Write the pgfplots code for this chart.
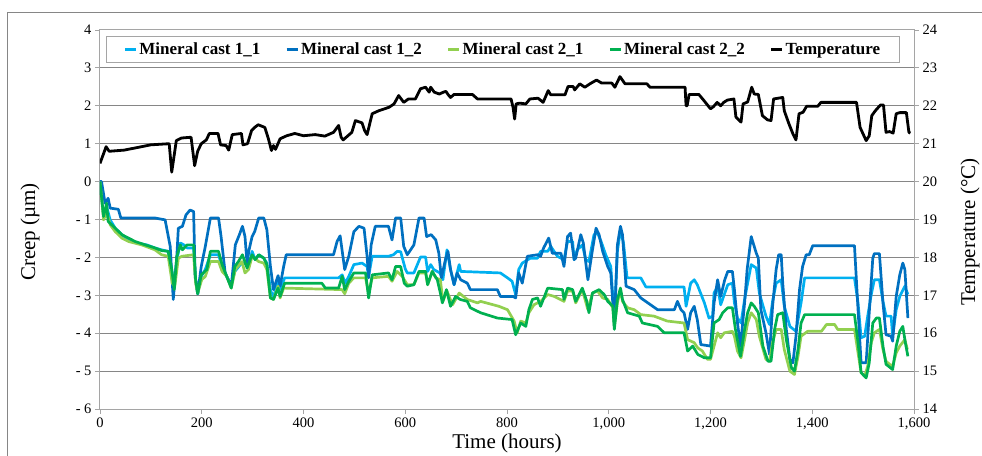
\documentclass[border=0pt]{standalone}
\usepackage{fontspec}
\setmainfont{Liberation Serif}
\usepackage{pgfplots}
\pgfplotsset{compat=1.18}

\definecolor{mcA}{RGB}{0,176,240}
\definecolor{mcB}{RGB}{0,112,192}
\definecolor{mcC}{RGB}{146,208,80}
\definecolor{mcD}{RGB}{0,176,80}
\definecolor{gridc}{RGB}{134,134,134}
\definecolor{axc}{RGB}{165,165,165}

\pgfplotsset{
  chart/.style={
    scale only axis, width=814pt, height=379pt,
    at={(0pt,0pt)}, anchor=south west,
    xmin=0, xmax=1600,
    tick label style={font=\fontsize{14.5}{16}\selectfont},
    label style={font=\fontsize{21}{24}\selectfont},
    tick align=outside, major tick length=5pt,
    every tick/.style={axc, line width=0.8pt},
    axis line style={axc, line width=1pt},
  },
  creep/.style={line width=2.7pt, line join=round},
}

\begin{document}
\begin{tikzpicture}
\useasboundingbox (-100pt,-46pt) rectangle (882pt,409pt);
\clip (-100pt,-46pt) rectangle (882pt,409pt);
% chart frame, cut off at the right and bottom like the reference
\draw[gridc, line width=1pt] (-92pt,-80pt) rectangle (920pt,396pt);

\begin{axis}[chart,
  ymin=-6, ymax=4,
  xtick={0,200,400,600,800,1000,1200,1400,1600},
  xticklabels={0,200,400,600,800,{1,000},{1,200},{1,400},{1,600}},
  ytick={-6,-5,-4,-3,-2,-1,0,1,2,3,4},
  yticklabels={- 6,- 5,- 4,- 3,- 2,- 1,0,1,2,3,4},
  xtick pos=left, ytick pos=left,
  ymajorgrids, grid style={gridc, line width=1pt},
  xlabel={Time (hours)}, ylabel={Creep (µm)},
  xlabel style={at={(axis description cs:0.5,-0.09)}, anchor=center},
  ylabel style={at={(axis description cs:-0.086,0.467)}, anchor=center},
]

% Mineral cast 1_1
\addplot[creep, mcA] coordinates {
(0,0) (7,-0.92) (13,-0.66) (20,-1.01) (30,-1.23) (43,-1.40) (56,-1.54) (69,-1.61)
(92,-1.67) (108,-1.75) (121,-1.80) (134,-1.84) (141,-2.32) (146,-2.81) (151,-2.06)
(158,-1.62) (165,-1.67) (171,-1.75) (184,-1.75) (188,-2.59) (192,-2.96) (199,-2.50)
(207,-2.32) (217,-1.93) (233,-1.93) (240,-2.24) (249,-2.50) (258,-2.72) (265,-2.37)
(276,-2.19) (285,-2.15) (292,-2.28) (299,-1.84) (305,-2.06) (312,-1.93) (322,-2.02)
(328,-2.15) (335,-2.85) (341,-3.07) (350,-2.59) (354,-2.85) (363,-2.54) (469,-2.54)
(476,-2.46) (482,-2.68) (489,-2.50) (499,-2.19) (515,-2.15) (525,-2.24) (528,-2.50)
(535,-1.97) (567,-1.97) (577,-1.93) (584,-1.84) (591,-1.85) (600,-2.30) (604,-2.41)
(617,-2.41) (630,-1.99) (640,-1.99) (644,-2.37) (650,-2.19) (656,-2.32) (668,-2.41)
(674,-2.59) (682,-1.80) (689,-2.32) (696,-2.72) (706,-2.19) (709,-2.37) (787,-2.41)
(801,-2.54) (810,-2.63) (817,-2.98) (823,-2.32) (830,-2.15) (846,-2.02) (860,-2.02)
(866,-1.84) (880,-1.84) (886,-1.71) (899,-1.97) (906,-2.02) (912,-2.06) (919,-1.58)
(929,-1.58) (932,-2.06) (938,-1.80) (948,-1.67) (955,-2.06) (961,-2.11) (971,-1.40)
(978,-1.36) (985,-1.58) (994,-1.93) (1004,-2.24) (1011,-3.64) (1017,-1.84) (1023,-1.27)
(1029,-1.62) (1036,-2.54) (1063,-2.54) (1073,-2.78) (1148,-2.78) (1152,-3.29) (1161,-2.68)
(1168,-2.59) (1174,-2.72) (1188,-3.20) (1197,-3.60) (1204,-3.55) (1207,-2.94) (1214,-2.76)
(1220,-3.25) (1227,-2.98) (1234,-2.72) (1243,-2.68) (1247,-3.20) (1253,-3.60) (1260,-3.73)
(1267,-3.11) (1273,-2.68) (1280,-2.19) (1290,-2.28) (1296,-2.94) (1309,-3.55) (1316,-3.77)
(1322,-3.16) (1329,-2.68) (1339,-2.59) (1345,-3.29) (1356,-3.82) (1368,-3.95) (1378,-3.20)
(1385,-2.54) (1483,-2.54) (1490,-3.20) (1496,-4.12) (1503,-4.08) (1509,-3.55) (1516,-2.98)
(1522,-2.59) (1532,-2.59) (1539,-3.16) (1545,-3.55) (1555,-3.55) (1558,-4.08) (1565,-3.38)
(1572,-3.03) (1582,-2.76) (1588,-2.98)
};

% Mineral cast 1_2
\addplot[creep, mcB] coordinates {
(0,0) (3,0) (10,-0.57) (16,-0.44) (20,-0.70) (36,-0.73) (41,-0.96) (108,-0.96) (128,-1.01)
(138,-1.71) (144,-3.11) (151,-1.97) (154,-1.23) (162,-1.18) (169,-0.88) (177,-0.75)
(184,-0.79) (187,-2.50) (192,-2.96) (199,-2.24) (207,-1.71) (217,-0.96) (233,-0.96)
(238,-1.45) (246,-2.41) (258,-2.76) (266,-1.67) (274,-1.40) (280,-1.18) (285,-1.45)
(289,-2.15) (293,-1.80) (299,-1.45) (304,-1.32) (312,-0.96) (322,-0.96) (328,-1.27)
(335,-2.24) (341,-2.85) (350,-2.48) (354,-2.76) (361,-2.24) (366,-1.93) (459,-1.93)
(466,-1.58) (472,-1.43) (481,-2.32) (489,-1.97) (499,-1.32) (509,-1.18) (519,-1.23)
(525,-1.97) (528,-2.54) (533,-1.67) (541,-1.18) (567,-1.18) (574,-1.54) (581,-0.96)
(591,-0.96) (597,-1.71) (604,-1.93) (617,-1.67) (627,-0.96) (637,-0.96) (642,-1.45)
(651,-1.40) (660,-1.54) (666,-1.89) (671,-2.54) (679,-2.06) (684,-1.84) (689,-2.32)
(696,-2.72) (702,-2.41) (709,-2.59) (722,-2.68) (728,-2.85) (781,-2.85) (787,-3.03)
(812,-3.03) (817,-3.07) (823,-2.41) (830,-2.68) (840,-1.97) (860,-1.93) (866,-1.97)
(872,-1.75) (882,-1.49) (889,-1.89) (906,-1.89) (912,-2.24) (919,-1.45) (925,-1.36)
(932,-2.06) (935,-2.02) (945,-1.40) (950,-1.62) (959,-2.59) (968,-1.80) (975,-1.23)
(981,-1.40) (988,-1.84) (998,-2.24) (1004,-2.41) (1011,-3.82) (1017,-1.67) (1023,-1.18)
(1027,-1.40) (1034,-2.76) (1050,-2.85) (1063,-3.07) (1096,-3.38) (1129,-3.38) (1135,-3.16)
(1142,-3.38) (1148,-3.46) (1155,-3.90) (1161,-3.46) (1168,-3.29) (1174,-3.64) (1181,-4.30)
(1200,-4.34) (1207,-3.20) (1214,-2.59) (1220,-3.03) (1228,-2.59) (1234,-2.37) (1243,-2.37)
(1247,-2.85) (1253,-3.73) (1259,-4.34) (1267,-3.20) (1272,-2.32) (1280,-1.45) (1290,-1.89)
(1294,-2.02) (1299,-3.38) (1309,-3.99) (1316,-4.56) (1322,-3.29) (1329,-2.32) (1334,-1.93)
(1339,-1.93) (1342,-2.68) (1349,-3.90) (1356,-4.69) (1362,-4.78) (1368,-4.08) (1375,-2.85)
(1381,-2.24) (1388,-1.93) (1394,-1.93) (1401,-1.69) (1483,-1.69) (1490,-3.38) (1496,-4.78)
(1506,-4.78) (1512,-3.46) (1519,-2.02) (1522,-1.90) (1532,-1.90) (1539,-3.20) (1545,-4.04)
(1555,-4.08) (1558,-4.21) (1565,-3.03) (1572,-2.46) (1578,-2.15) (1582,-2.32) (1588,-3.60)
};

% Mineral cast 2_1
\addplot[creep, mcC] coordinates {
(0,0) (7,-1.01) (13,-0.79) (20,-1.14) (30,-1.32) (43,-1.49) (56,-1.58) (82,-1.67)
(108,-1.80) (121,-1.93) (134,-1.97) (142,-2.68) (147,-2.76) (154,-2.02) (161,-1.97)
(184,-1.93) (188,-2.68) (192,-2.94) (200,-2.59) (207,-2.50) (217,-2.11) (233,-2.11)
(240,-2.37) (249,-2.50) (258,-2.81) (266,-2.32) (279,-2.11) (285,-2.41) (292,-2.32)
(299,-1.97) (312,-2.11) (322,-2.15) (328,-2.32) (335,-3.07) (341,-3.11) (350,-2.76)
(354,-3.07) (361,-2.81) (476,-2.85) (481,-2.96) (489,-2.68) (499,-2.54) (522,-2.54)
(528,-2.94) (535,-2.54) (567,-2.50) (574,-2.63) (584,-2.37) (594,-2.50) (604,-2.72)
(617,-2.72) (627,-2.41) (640,-2.41) (644,-2.72) (653,-2.37) (660,-2.54) (669,-2.59)
(674,-3.16) (682,-2.89) (693,-3.25) (706,-2.94) (722,-3.11) (742,-3.20) (748,-3.16)
(784,-3.29) (801,-3.38) (814,-3.68) (820,-3.99) (827,-3.68) (837,-3.73) (843,-3.46)
(853,-3.25) (866,-3.16) (880,-2.98) (893,-3.03) (912,-3.16) (919,-2.89) (929,-2.89)
(935,-3.20) (948,-2.85) (959,-3.38) (968,-2.94) (978,-2.89) (988,-3.07) (998,-3.11)
(1008,-3.33) (1011,-3.82) (1017,-3.20) (1023,-2.85) (1027,-3.16) (1037,-3.33) (1050,-3.38)
(1063,-3.51) (1089,-3.55) (1115,-3.68) (1148,-3.73) (1155,-4.17) (1168,-4.25) (1175,-4.39)
(1184,-4.47) (1194,-4.69) (1200,-4.69) (1207,-4.34) (1214,-3.99) (1220,-4.12) (1227,-3.99)
(1243,-3.95) (1247,-4.08) (1253,-4.47) (1260,-4.65) (1267,-4.17) (1273,-3.73) (1280,-3.46)
(1290,-3.64) (1296,-4.08) (1309,-4.69) (1316,-4.74) (1322,-4.25) (1329,-3.90) (1339,-3.90)
(1345,-4.43) (1356,-5.00) (1365,-5.09) (1372,-4.61) (1378,-4.08) (1391,-3.95) (1418,-3.95)
(1428,-3.77) (1444,-3.77) (1450,-3.90) (1483,-3.90) (1490,-4.52) (1496,-5.04) (1503,-5.13)
(1509,-4.87) (1516,-4.25) (1522,-3.99) (1532,-3.90) (1539,-4.43) (1545,-4.74) (1552,-4.82)
(1558,-4.87) (1565,-4.52) (1572,-4.34) (1582,-4.17) (1587,-4.43)
};

% Mineral cast 2_2
\addplot[creep, mcD] coordinates {
(0,0) (7,-0.92) (13,-0.57) (16,-1.05) (23,-1.14) (33,-1.27) (43,-1.40) (56,-1.49)
(69,-1.58) (89,-1.67) (108,-1.75) (121,-1.82) (134,-1.84) (141,-2.32) (146,-2.85)
(151,-1.97) (158,-1.67) (162,-1.80) (171,-1.67) (184,-1.67) (188,-2.59) (192,-2.96)
(199,-2.46) (210,-2.32) (217,-1.84) (233,-1.84) (240,-2.19) (249,-2.50) (258,-2.81)
(265,-2.24) (272,-2.11) (280,-1.93) (289,-2.28) (299,-1.93) (305,-2.06) (312,-1.93)
(322,-2.02) (328,-2.19) (335,-3.07) (341,-3.11) (350,-2.81) (354,-3.03) (363,-2.68)
(436,-2.68) (443,-2.81) (469,-2.81) (476,-2.50) (481,-2.85) (489,-2.63) (499,-2.41)
(522,-2.41) (528,-3.07) (535,-2.46) (567,-2.41) (574,-2.59) (581,-2.24) (591,-2.24)
(598,-2.68) (604,-2.76) (617,-2.72) (627,-2.37) (640,-2.37) (644,-2.72) (653,-2.37)
(663,-2.59) (669,-2.94) (673,-3.20) (681,-2.85) (689,-3.29) (699,-3.03) (708,-3.11)
(722,-3.16) (728,-3.33) (748,-3.46) (781,-3.60) (810,-3.64) (817,-4.04) (827,-3.73)
(837,-3.82) (843,-3.38) (850,-3.11) (860,-3.07) (866,-3.29) (880,-2.81) (909,-2.85)
(912,-3.11) (919,-2.81) (929,-2.85) (935,-3.16) (948,-2.81) (957,-3.16) (961,-3.46)
(968,-2.94) (981,-2.85) (991,-2.98) (998,-3.16) (1008,-3.29) (1011,-3.90) (1017,-3.11)
(1023,-2.81) (1027,-3.11) (1037,-3.46) (1060,-3.55) (1066,-3.73) (1096,-3.82) (1109,-3.99)
(1148,-3.99) (1155,-4.47) (1165,-4.34) (1175,-4.56) (1188,-4.65) (1200,-4.65) (1207,-3.73)
(1217,-3.64) (1224,-3.46) (1234,-3.33) (1243,-3.33) (1249,-3.90) (1259,-4.61) (1267,-3.90)
(1273,-3.46) (1280,-3.20) (1286,-3.29) (1294,-3.46) (1303,-4.34) (1313,-4.74) (1319,-4.74)
(1326,-3.90) (1332,-3.51) (1342,-3.46) (1349,-4.17) (1359,-4.91) (1365,-5.00) (1372,-4.43)
(1378,-3.73) (1385,-3.51) (1483,-3.51) (1490,-4.25) (1496,-5.04) (1506,-5.18) (1512,-4.78)
(1519,-3.73) (1526,-3.60) (1532,-3.60) (1539,-4.34) (1545,-4.82) (1558,-4.96) (1565,-4.34)
(1572,-3.95) (1578,-3.82) (1583,-4.25) (1588,-4.61)
};
\end{axis}

\begin{axis}[chart,
  ymin=14, ymax=24,
  axis x line=none, axis y line*=right,
  ytick={14,15,16,17,18,19,20,21,22,23,24},
  yticklabels={14,15,16,17,18,19,20,21,22,23,24},
  ylabel={Temperature (°C)},
  ylabel style={at={(axis description cs:1.069,0.467)}, anchor=center},
  legend columns=5,
  legend image code/.code={\draw[#1, line width=2.7pt] (0pt,0pt) -- (11pt,0pt);},
  legend style={at={(0.495,0.9486)}, anchor=center, draw=axc, line width=1pt, fill=white,
    font=\bfseries\fontsize{17}{20}\selectfont,
    inner xsep=17pt, inner ysep=4pt,
    /tikz/every even column/.append style={column sep=23pt}},
]
\addlegendimage{creep, mcA}
\addlegendimage{creep, mcB}
\addlegendimage{creep, mcC}
\addlegendimage{creep, mcD}
% Temperature
\addplot[creep, black, line width=2.8pt] coordinates {
(0,20.48) (12,20.92) (18,20.80) (47,20.83) (74,20.90) (100,20.97) (136,21.00) (141,20.25)
(150,21.08) (160,21.15) (179,21.17) (186,20.42) (192,20.80) (199,21.00) (209,21.10)
(215,21.27) (232,21.27) (237,20.97) (248,20.95) (253,20.83) (260,21.24) (278,21.27)
(281,20.97) (290,21.00) (298,21.35) (304,21.43) (311,21.50) (324,21.43) (331,21.13)
(337,20.82) (341,20.95) (345,20.85) (354,21.13) (367,21.21) (383,21.27) (400,21.21)
(423,21.24) (442,21.20) (459,21.30) (469,21.48) (474,21.17) (478,21.10) (495,21.30)
(502,21.61) (515,21.55) (520,21.35) (525,21.24) (535,21.79) (548,21.87) (568,21.96)
(578,22.05) (587,22.27) (597,22.09) (606,22.18) (620,22.18) (630,22.45) (640,22.49)
(647,22.36) (650,22.49) (657,22.36) (667,22.31) (675,22.36) (680,22.38) (684,22.30)
(689,22.22) (696,22.30) (732,22.30) (742,22.18) (808,22.18) (812,21.95) (815,21.65)
(818,22.05) (825,22.07) (837,22.05) (845,22.18) (861,22.20) (871,22.09) (881,22.40)
(886,22.29) (914,22.29) (920,22.51) (930,22.51) (933,22.42) (943,22.58) (953,22.49)
(963,22.58) (976,22.68) (986,22.60) (1006,22.60) (1012,22.49) (1022,22.77) (1032,22.58)
(1075,22.58) (1081,22.49) (1150,22.49) (1152,22.00) (1154,22.00) (1158,22.30) (1177,22.30)
(1187,22.14) (1200,21.92) (1206,21.98) (1213,22.09) (1220,22.00) (1226,22.09) (1233,22.15)
(1246,22.18) (1250,21.70) (1260,21.57) (1264,22.05) (1273,22.10) (1281,22.49) (1286,22.31)
(1294,22.30) (1302,21.74) (1312,21.63) (1319,21.61) (1324,22.18) (1342,22.22) (1345,21.87)
(1354,21.53) (1362,21.26) (1368,21.10) (1374,21.79) (1382,21.83) (1389,21.99) (1411,21.99)
(1417,22.09) (1487,22.09) (1494,21.43) (1506,21.08) (1512,21.21) (1517,21.74) (1524,21.87)
(1534,22.02) (1540,22.02) (1545,21.30) (1552,21.32) (1559,21.28) (1565,21.79) (1572,21.82)
(1585,21.82) (1590,21.30) (1593,21.28)
};
\legend{Mineral cast 1\_1, Mineral cast 1\_2, Mineral cast 2\_1, Mineral cast 2\_2, Temperature}
\end{axis}
\end{tikzpicture}
\end{document}
